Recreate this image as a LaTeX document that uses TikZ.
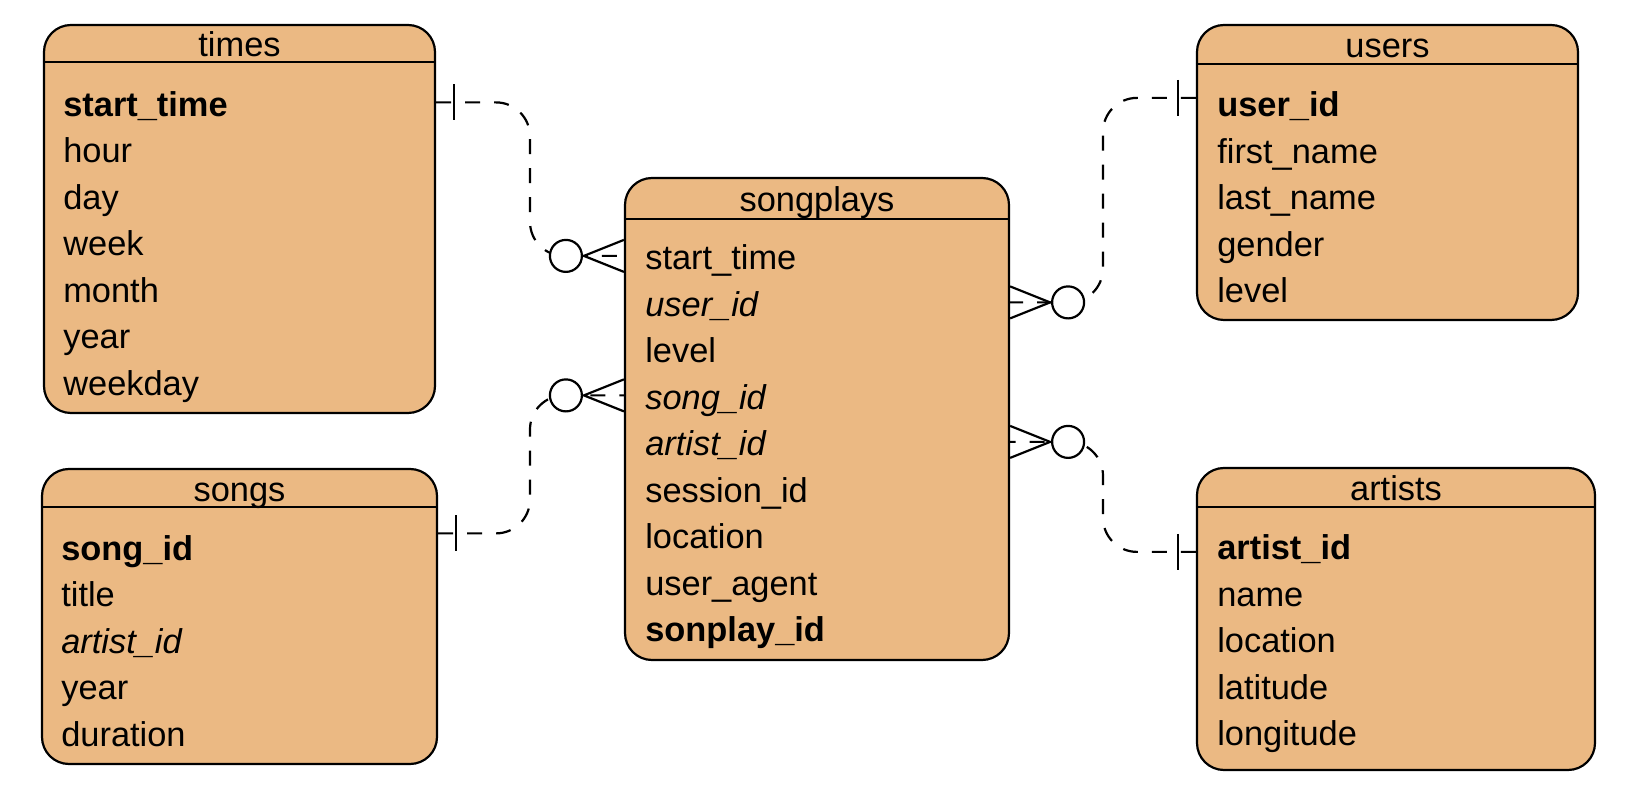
\documentclass[tikz,border=0pt]{standalone}
\usepackage{fontspec}
\setmainfont{Liberation Sans}
\usepackage{tikz}
\usetikzlibrary{calc,fit,positioning}
\definecolor{tablefill}{RGB}{235,185,131}

\begin{document}
\begin{tikzpicture}[x=0.5pt,y=-0.5pt,
  tablebox/.style={draw,fill=tablefill,line width=1.1pt,rounded corners=13.5pt,inner sep=0pt},
  tabletitle/.style={inner sep=0pt,text height=17pt,text depth=3pt,font=\fontsize{17.2}{20}\selectfont},
  field/.style={anchor=west,inner sep=0pt,text height=17pt,text depth=3pt,font=\fontsize{17.2}{20}\selectfont},
  rel/.style={line width=1.1pt,dash pattern=on 7.5pt off 7pt,rounded corners=17pt},
  erline/.style={line width=1.1pt,solid},
  pics/onebar/.style={code={\draw[erline] (18,-18) -- (18,18);}},
  pics/crowfoot/.style={code={
    \draw[erline] (0,-16) -- (-40,0) -- (0,16);
    \draw[erline,fill=white] (-58,0) circle (8pt);}}]
\useasboundingbox (0,0) rectangle (1634,806);

% tables
\node[tablebox,fit={(44,25) (435,413)}] (times) {};
\node[tablebox,fit={(42,469) (437,764)}] (songs) {};
\node[tablebox,fit={(625,178) (1009,660)}] (songplays) {};
\node[tablebox,fit={(1197,25) (1578,320)}] (users) {};
\node[tablebox,fit={(1197,468) (1595,770)}] (artists) {};

% headers
\draw[line width=1.1pt] ($(times.north west)+(0,38)$) -- ($(times.north east)+(0,38)$);
\draw[line width=1.1pt] ($(songs.north west)+(0,39)$) -- ($(songs.north east)+(0,39)$);
\draw[line width=1.1pt] ($(songplays.north west)+(0,42)$) -- ($(songplays.north east)+(0,42)$);
\draw[line width=1.1pt] ($(users.north west)+(0,40)$) -- ($(users.north east)+(0,40)$);
\draw[line width=1.1pt] ($(artists.north west)+(0,40)$) -- ($(artists.north east)+(0,40)$);
\node[tabletitle] (times-t) at ($(times.north)+(0,19)$) {times};
\node[tabletitle] (songs-t) at ($(songs.north)+(0,19.5)$) {songs};
\node[tabletitle] (songplays-t) at ($(songplays.north)+(0,21)$) {songplays};
\node[tabletitle] (users-t) at ($(users.north)+(0,20)$) {users};
\node[tabletitle] (artists-t) at ($(artists.north)+(0,20)$) {artists};

% fields
\foreach \f [count=\i] in {\textbf{start\_time},hour,day,week,month,year,weekday}
  \node[field] (times-\i) at ($(times.north west)+(20,32+46.5*\i)$) {\f};
\foreach \f [count=\i] in {\textbf{song\_id},title,\textit{artist\_id},year,duration}
  \node[field] (songs-\i) at ($(songs.north west)+(20,32+46.5*\i)$) {\f};
\foreach \f [count=\i] in {start\_time,\textit{user\_id},level,\textit{song\_id},\textit{artist\_id},session\_id,location,user\_agent,\textbf{sonplay\_id}}
  \node[field] (songplays-\i) at ($(songplays.north west)+(21,32.5+46.5*\i)$) {\f};
\foreach \f [count=\i] in {\textbf{user\_id},first\_name,last\_name,gender,level}
  \node[field] (users-\i) at ($(users.north west)+(21,32.5+46.5*\i)$) {\f};
\foreach \f [count=\i] in {\textbf{artist\_id},name,location,latitude,longitude}
  \node[field] (artists-\i) at ($(artists.north west)+(21,32.5+46.5*\i)$) {\f};

% relations
\coordinate (times-pk) at (times.east |- times-1);
\coordinate[yshift=6.5pt] (songs-pk) at (songs.east |- songs-1);
\coordinate[yshift=2.5pt] (users-pk) at (users.west |- users-1);
\coordinate[yshift=-3pt] (artists-pk) at (artists.west |- artists-1);
\coordinate (sp-time) at (songplays.west |- songplays-1);
\coordinate (sp-song) at (songplays.west |- songplays-4);
\coordinate (sp-user) at (songplays.east |- songplays-2);
\coordinate (sp-artist) at (songplays.east |- songplays-5);
\coordinate (mid-l) at ($(times.east)!.5!(songplays.west)$);
\coordinate (mid-r) at ($(songplays.east)!.5!(users.west)$);

\draw[rel] (times-pk) -| (mid-l |- sp-time) -- (sp-time);
\draw[rel] (songs-pk) -| (mid-l |- sp-song) -- (sp-song);
\draw[rel] (users-pk) -| (mid-r |- sp-user) -- (sp-user);
\draw[rel] (artists-pk) -| (mid-r |- sp-artist) -- (sp-artist);

\pic at (times-pk) {onebar};
\pic at (songs-pk) {onebar};
\pic[xscale=-1] at (users-pk) {onebar};
\pic[xscale=-1] at (artists-pk) {onebar};
\pic at (sp-time) {crowfoot};
\pic at (sp-song) {crowfoot};
\pic[xscale=-1] at (sp-user) {crowfoot};
\pic[xscale=-1] at (sp-artist) {crowfoot};
\end{tikzpicture}
\end{document}
